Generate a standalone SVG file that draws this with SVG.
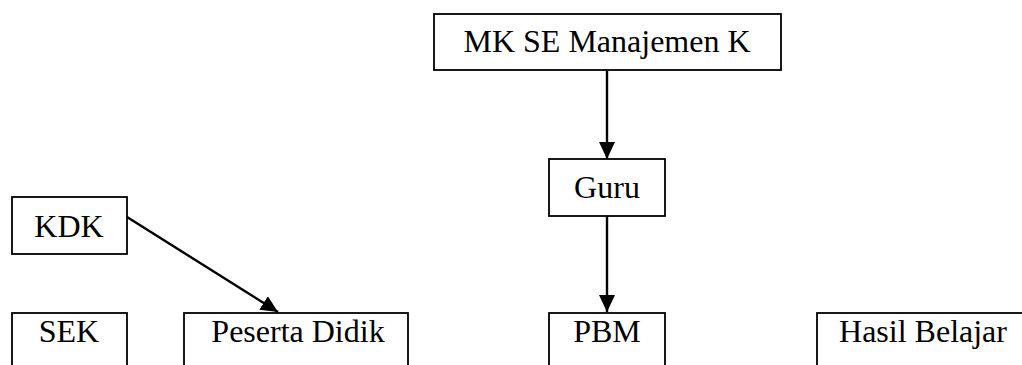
<svg xmlns="http://www.w3.org/2000/svg" width="1022" height="365" viewBox="0 0 1022 365">
<style>
.box{fill:#fff;stroke:#000;stroke-width:1.8}
.lbl{font-family:"Liberation Serif","Times New Roman",serif;font-size:32px;fill:#000;text-anchor:middle}
.edge{stroke:#000;stroke-width:2.4;fill:none}
</style>
<defs>
<marker id="arr" markerUnits="userSpaceOnUse" markerWidth="18" markerHeight="16" refX="17" refY="8" orient="auto">
<path d="M0,0 L17,8 L0,16 z" fill="#000"/>
</marker>
</defs>
<rect width="1022" height="365" fill="#fff"/>
<g id="connectors">
<line class="edge" x1="607" y1="70" x2="607" y2="159" marker-end="url(#arr)"/>
<line class="edge" x1="607" y1="216" x2="607" y2="312" marker-end="url(#arr)"/>
<line class="edge" x1="127" y1="217" x2="278" y2="312" marker-end="url(#arr)"/>
</g>
<g id="node-mk">
<rect class="box" x="434" y="14" width="347" height="56"/>
<text class="lbl" x="607" y="52">MK SE Manajemen K</text>
</g>
<g id="node-guru">
<rect class="box" x="549" y="159" width="116" height="57"/>
<text class="lbl" x="607" y="198">Guru</text>
</g>
<g id="node-kdk">
<rect class="box" x="12" y="197" width="115" height="57"/>
<text class="lbl" x="69" y="237">KDK</text>
</g>
<g id="node-sek">
<rect class="box" x="12" y="313" width="115" height="70"/>
<text class="lbl" x="69" y="342">SEK</text>
</g>
<g id="node-peserta">
<rect class="box" x="184" y="313" width="224" height="70"/>
<text class="lbl" x="298" y="342">Peserta Didik</text>
</g>
<g id="node-pbm">
<rect class="box" x="549" y="313" width="116" height="70"/>
<text class="lbl" x="607" y="342">PBM</text>
</g>
<g id="node-hasil">
<rect class="box" x="817" y="313" width="220" height="70"/>
<text class="lbl" x="923" y="342">Hasil Belajar</text>
</g>
</svg>
